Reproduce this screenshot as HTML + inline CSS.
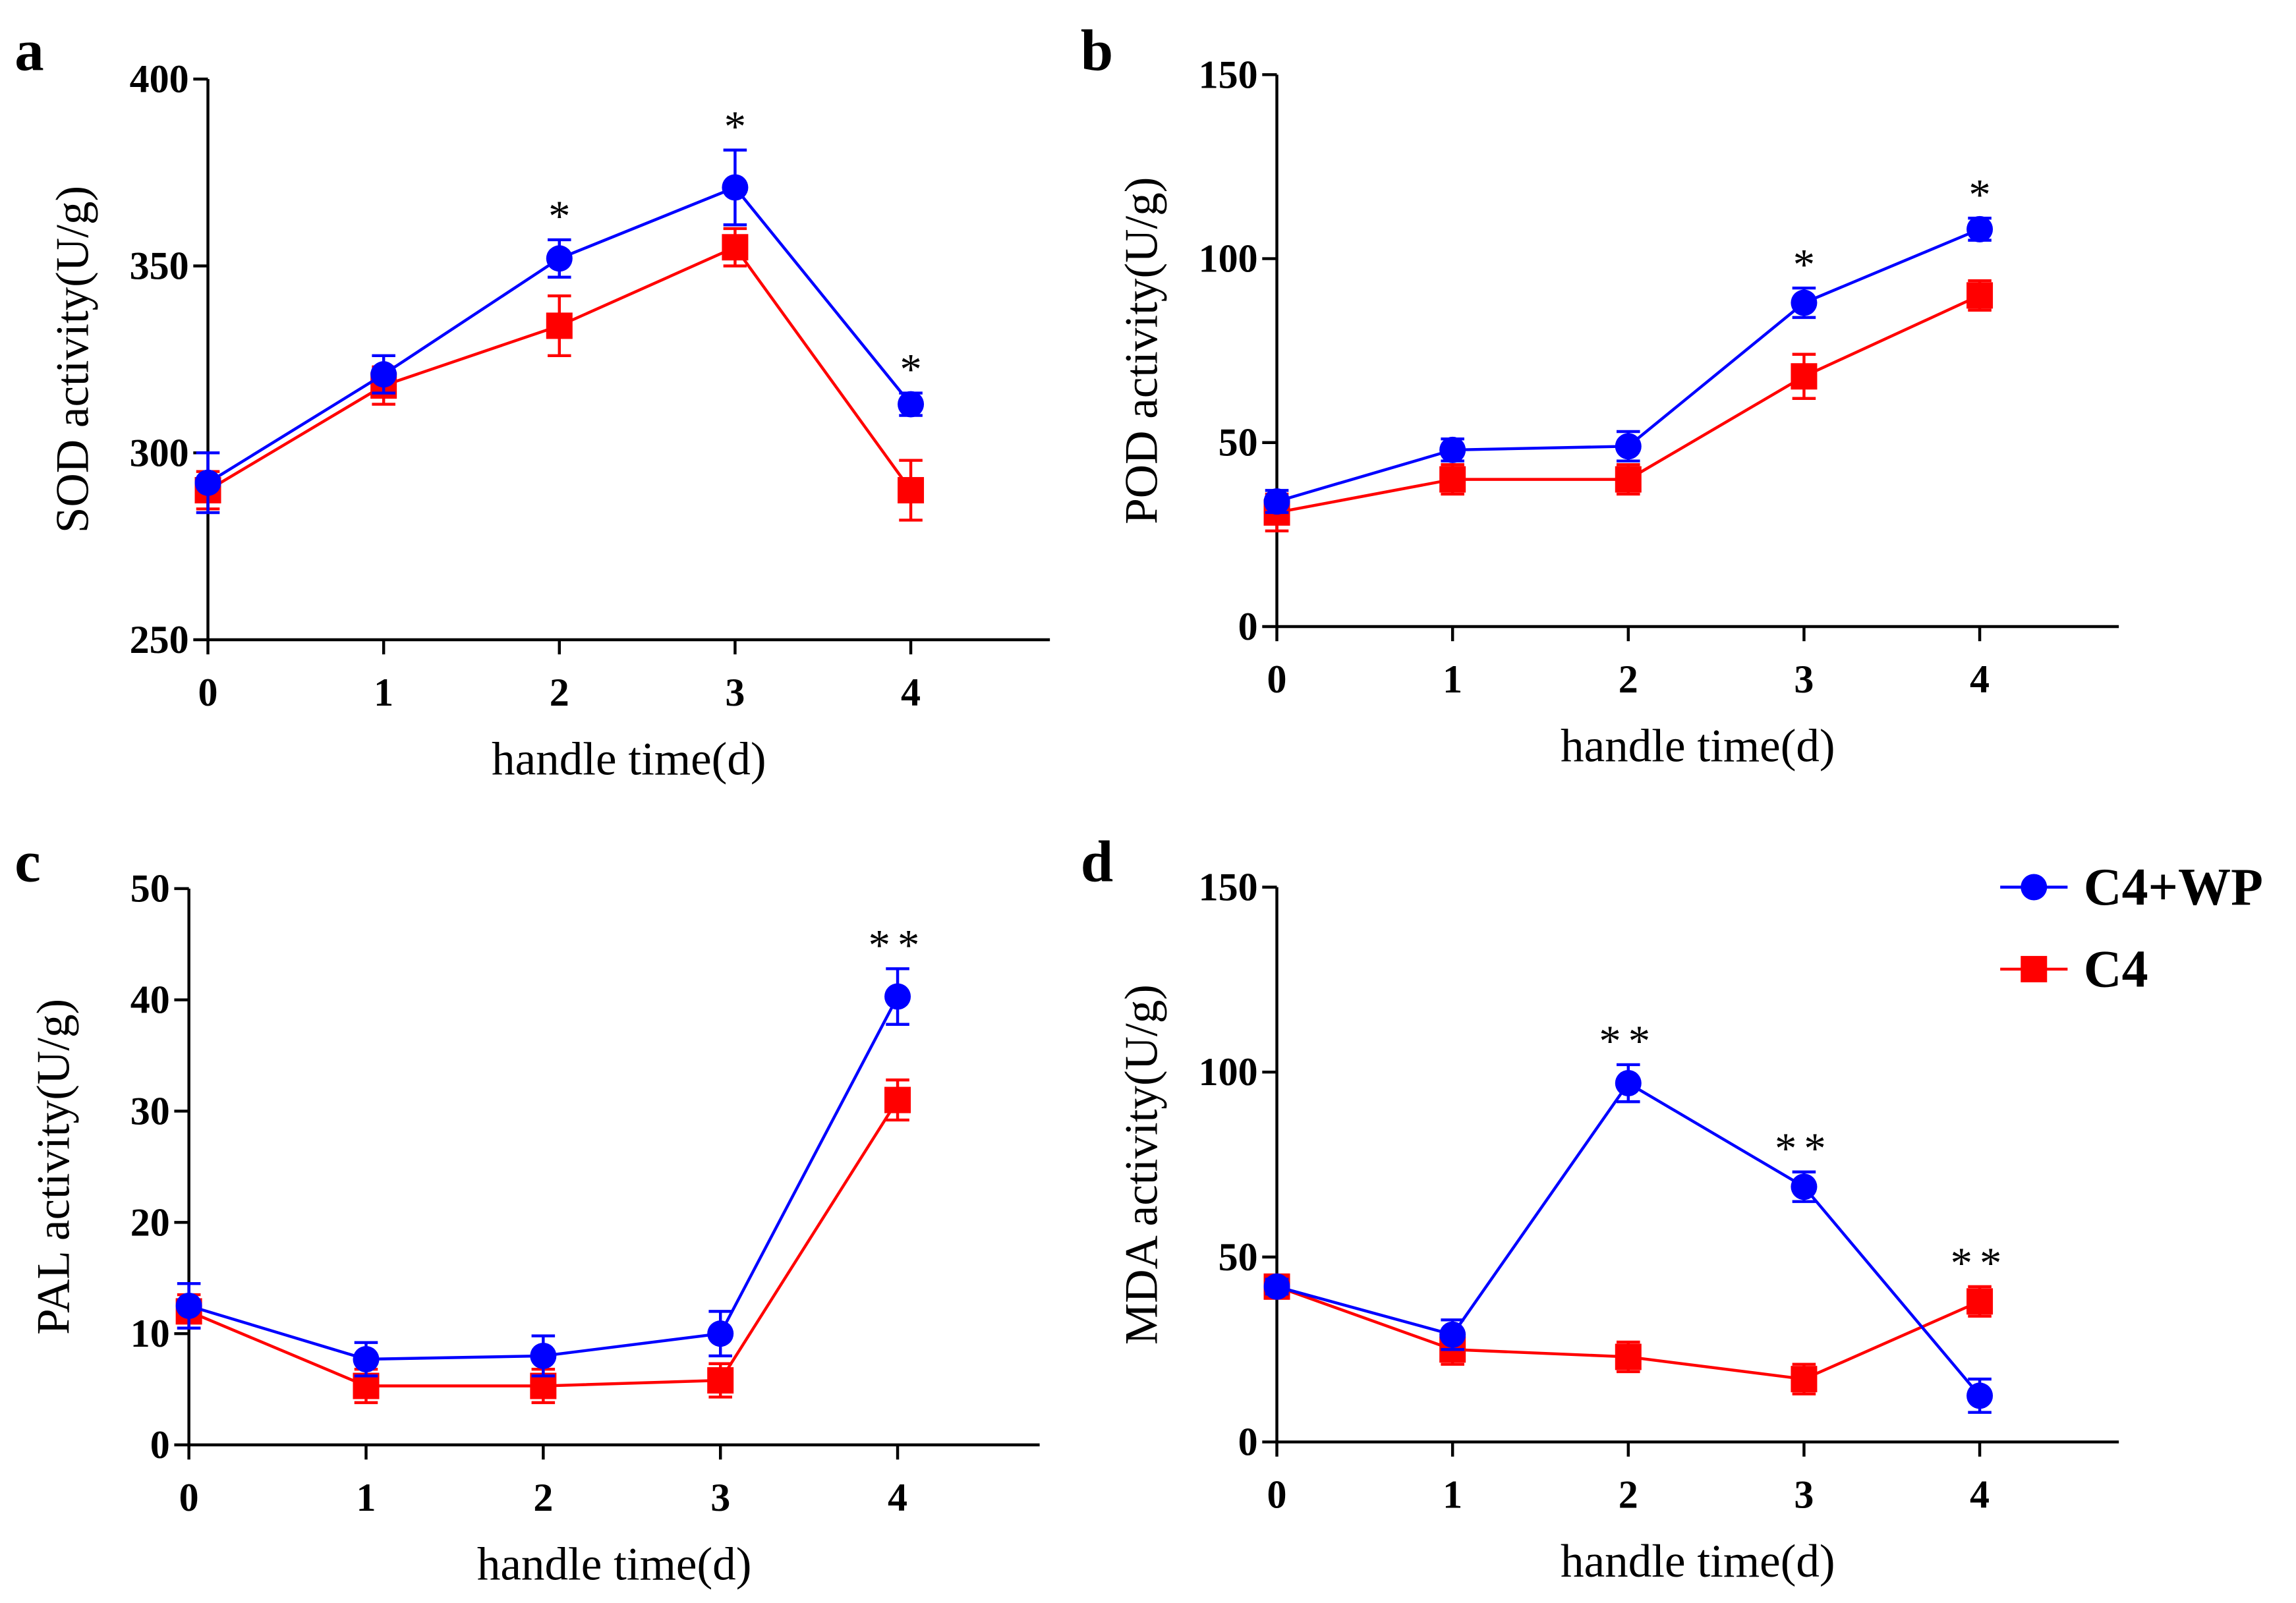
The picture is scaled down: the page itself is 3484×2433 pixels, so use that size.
<!DOCTYPE html>
<html><head><meta charset="utf-8"><style>
html,body{margin:0;padding:0;background:#fff}
svg{display:block}
text{font-family:"Liberation Serif",serif}
</style></head><body>
<svg id="fig" width="3484" height="2433" viewBox="0 0 1568 1095" preserveAspectRatio="none" xmlns="http://www.w3.org/2000/svg"></svg>
<script>
// ---- data ----
const days = [0,1,2,3,4];
const sodWP = [292,321,352,371,313];
const sodWPErr = [8,5,5,10,3];
const sodC4 = [290,318,334,355,290];
const sodC4Err = [5,5,8,5,8];
const sodStars = ["","","*","*","*"];
const sodTicks = [250,300,350,400];

const podWP = [34,48,49,88,108];
const podWPErr = [3,3,4,4,3];
const podC4 = [31,40,40,68,90];
const podC4Err = [5,4,4,6,4];
const podStars = ["","","","*","*"];
const podTicks = [0,50,100,150];

const palWP = [12.5,7.7,8,10,40.3];
const palWPErr = [2,1.5,1.8,2,2.5];
const palC4 = [12,5.3,5.3,5.8,31];
const palC4Err = [1.5,1.5,1.5,1.5,1.8];
const palStars = ["","","","","**"];
const palTicks = [0,10,20,30,40,50];

const mdaWP = [42,29,97,69,12.5];
const mdaWPErr = [2,4,5,4,4.5];
const mdaC4 = [42,25,23,17,38];
const mdaC4Err = [2,4,4,4,4];
const mdaStars = ["","","**","**","**"];
const mdaTicks = [0,50,100,150];

const NS="http://www.w3.org/2000/svg";
const svg=document.getElementById('fig');
function mk(tag,attrs,parent){const e=document.createElementNS(NS,tag);for(const k in attrs)e.setAttribute(k,attrs[k]);(parent||svg).appendChild(e);return e;}

function panel(cfg){
  const g=mk('g',{});
  
  
  const ymin=cfg.ticks[0], ymax=cfg.ticks[cfg.ticks.length-1];
  const yS=v=>cfg.y0-(v-ymin)/(ymax-ymin)*(cfg.y0-cfg.y1);
  const xS=d=>cfg.x0+d*cfg.dx;
  const ax=mk('path',{d:`M${cfg.x0},${cfg.y1}V${cfg.y0}H${cfg.xEnd}`,stroke:'#000','stroke-width':2,fill:'none'},g);
  
  
  cfg.ticks.forEach(t=>{
    const y=yS(t);
    mk('line',{x1:cfg.x0-10,x2:cfg.x0,y1:y,y2:y,stroke:'#000','stroke-width':2},g);
    const tx=mk('text',{x:cfg.x0-13,y:y+9,'text-anchor':'end','font-size':27,'font-weight':'bold'},g);
    tx.textContent=t;
    
    
  });
  days.forEach(d=>{
    const x=xS(d);
    mk('line',{x1:x,x2:x,y1:cfg.y0,y2:cfg.y0+10,stroke:'#000','stroke-width':2},g);
    const tx=mk('text',{x:x,y:cfg.y0+45,'text-anchor':'middle','font-size':27,'font-weight':'bold'},g);
    tx.textContent=d;
    
    
  });
  const xt=mk('text',{x:(cfg.x0+cfg.xEnd)/2,y:cfg.y0+92,'text-anchor':'middle','font-size':32},g);
  xt.textContent='handle time(d)';
  
  
  const yt=mk('text',{x:0,y:0,'text-anchor':'middle','font-size':32,transform:`translate(${cfg.x0-82},${(cfg.y0+cfg.y1)/2}) rotate(-90)`},g);
  yt.textContent=cfg.ytitle;
  
  
  const lt=mk('text',{x:cfg.lx,y:cfg.ly,'font-size':40,'font-weight':'bold'},g);
  lt.textContent=cfg.letter;
  
  
  [[cfg.c4,cfg.c4e,'#ff0000','square','c4'],[cfg.wp,cfg.wpe,'#0000ff','circle','c4-wp']].forEach(([vals,errs,col,shape,nm])=>{
    const pts=vals.map((v,i)=>xS(days[i])+','+yS(v)).join(' ');
    const pl=mk('polyline',{points:pts,fill:'none',stroke:col,'stroke-width':2},g);
    
    
    vals.forEach((v,i)=>{
      const x=xS(days[i]),y=yS(v),yh=yS(v+errs[i]),yl=yS(v-errs[i]);
      const eb=mk('path',{d:`M${x},${yh}V${yl}M${x-8},${yh}H${x+8}M${x-8},${yl}H${x+8}`,stroke:col,'stroke-width':2,fill:'none'},g);
      
      
      let m;
      if(shape==='circle') m=mk('circle',{cx:x,cy:y,r:9,fill:col},g);
      else m=mk('rect',{x:x-9,y:y-9,width:18,height:18,fill:col},g);
      
      
    });
  });
  cfg.stars.forEach((s,i)=>{
    if(!s)return;
    const top=Math.min(yS(cfg.wp[i]+cfg.wpe[i]),yS(cfg.c4[i]+cfg.c4e[i]));
    const st=mk('text',{x:xS(days[i]),y:top-6,'text-anchor':'middle','font-size':30,'letter-spacing':s.length>1?5:0},g);
    st.textContent=s;
    
    
  });
}

panel({name:'panel-a-sod',letter:'a',lx:10,ly:48,x0:142,dx:120,xEnd:717,y0:437,y1:54,ticks:sodTicks,ytitle:'SOD activity(U/g)',wp:sodWP,wpe:sodWPErr,c4:sodC4,c4e:sodC4Err,stars:sodStars});
panel({name:'panel-b-pod',letter:'b',lx:738,ly:48,x0:872,dx:120,xEnd:1447,y0:428,y1:51,ticks:podTicks,ytitle:'POD activity(U/g)',wp:podWP,wpe:podWPErr,c4:podC4,c4e:podC4Err,stars:podStars});
panel({name:'panel-c-pal',letter:'c',lx:10,ly:602,x0:129,dx:121,xEnd:710,y0:987,y1:607,ticks:palTicks,ytitle:'PAL activity(U/g)',wp:palWP,wpe:palWPErr,c4:palC4,c4e:palC4Err,stars:palStars});
panel({name:'panel-d-mda',letter:'d',lx:738,ly:602,x0:872,dx:120,xEnd:1447,y0:985,y1:606,ticks:mdaTicks,ytitle:'MDA activity(U/g)',wp:mdaWP,wpe:mdaWPErr,c4:mdaC4,c4e:mdaC4Err,stars:mdaStars});

const lg=mk('g',{});


[['C4+WP','#0000ff','circle',606],['C4','#ff0000','square',662]].forEach(([lab,col,shape,y])=>{
  const e=mk('g',{},lg);
  
  
  mk('line',{x1:1366,x2:1412,y1:y,y2:y,stroke:col,'stroke-width':2},e);
  if(shape==='circle') mk('circle',{cx:1389,cy:y,r:9,fill:col},e);
  else mk('rect',{x:1380,y:y-9,width:18,height:18,fill:col},e);
  const t=mk('text',{x:1423,y:y+12,'font-size':36,'font-weight':'bold'},e);
  t.textContent=lab;
});
</script>
</body></html>
